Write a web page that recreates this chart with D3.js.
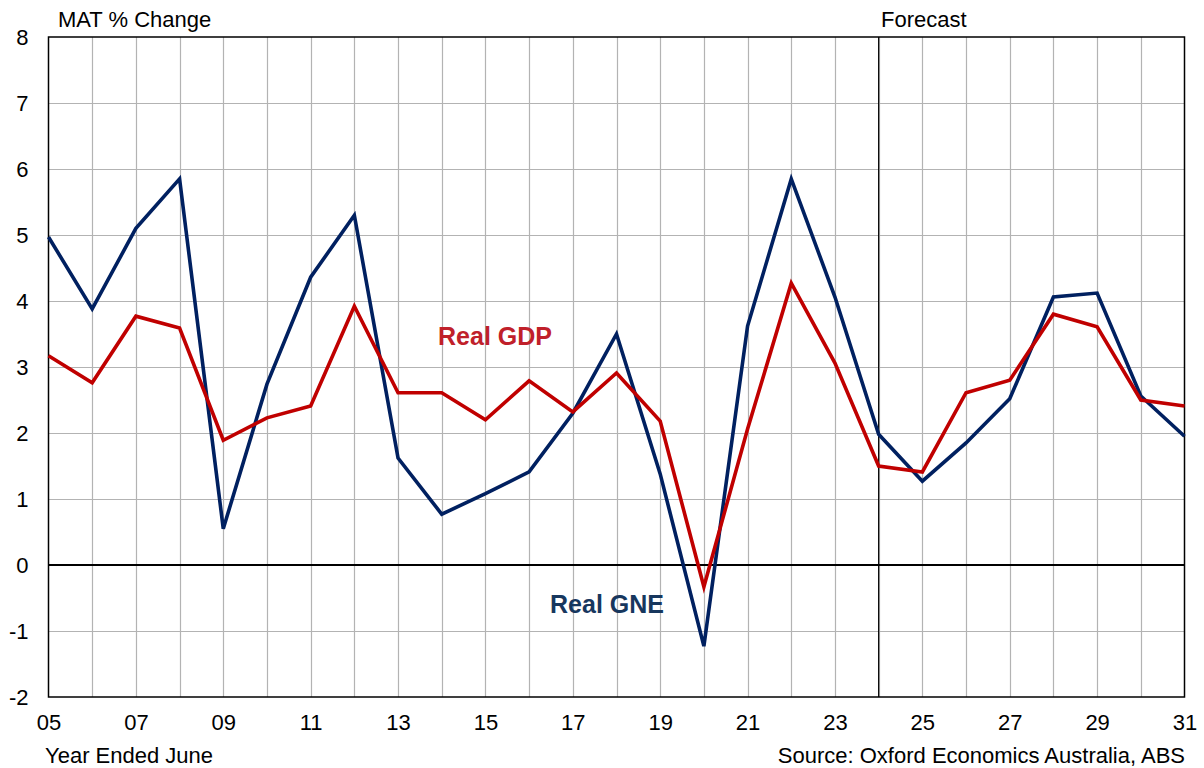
<!DOCTYPE html>
<html><head><meta charset="utf-8">
<script src="https://cdn.jsdelivr.net/npm/d3@7"></script>
<style>body{margin:0;background:#fff}svg{display:block;font-family:"Liberation Sans",Arial,sans-serif}</style>
</head><body><svg id="c" width="1204" height="768"></svg>
<script>
const years = [5,6,7,8,9,10,11,12,13,14,15,16,17,18,19,20,21,22,23,24,25,26,27,28,29,30,31];
const realGNE = [4.97,3.88,5.1,5.85,0.55,2.74,4.36,5.3,1.62,0.77,1.08,1.41,2.3,3.5,1.38,-1.23,3.62,5.85,4.06,1.98,1.27,1.85,2.52,4.06,4.12,2.56,1.95];
const realGDP = [3.17,2.76,3.77,3.59,1.89,2.23,2.41,3.92,2.61,2.61,2.2,2.79,2.32,2.91,2.18,-0.33,2.06,4.27,3.06,1.5,1.41,2.61,2.8,3.8,3.61,2.5,2.41];
const yTicks = [-2,-1,0,1,2,3,4,5,6,7,8];
const xTickYears = [5,7,9,11,13,15,17,19,21,23,25,27,29,31];
const forecastStart = 24;

const svg = d3.select("#c");
const L=48.5, R=1184.5, T=37, B=697;
const x = d3.scaleLinear().domain([5,31]).range([L,R]);
const y = d3.scaleLinear().domain([-2,8]).range([B,T]);

const g = svg.append("g");
g.selectAll(".vg").data(years.slice(1,-1)).join("line")
 .attr("x1",d=>Math.round(x(d))+0.5).attr("x2",d=>Math.round(x(d))+0.5).attr("y1",T).attr("y2",B)
 .attr("stroke","#b3b3b3").attr("stroke-width",1.2);
g.selectAll(".hg").data(yTicks.filter(d=>d!==-2&&d!==8&&d!==0)).join("line")
 .attr("x1",L).attr("x2",R).attr("y1",d=>Math.round(y(d))+0.5).attr("y2",d=>Math.round(y(d))+0.5)
 .attr("stroke","#b3b3b3").attr("stroke-width",1.2);
g.append("line").attr("x1",x(forecastStart)).attr("x2",x(forecastStart)).attr("y1",T).attr("y2",B).attr("stroke","#000").attr("stroke-width",1.2);
g.append("line").attr("x1",L).attr("x2",R).attr("y1",y(0)).attr("y2",y(0)).attr("stroke","#000").attr("stroke-width",2);
g.append("rect").attr("x",L).attr("y",T).attr("width",R-L).attr("height",B-T).attr("fill","none").attr("stroke","#000").attr("stroke-width",1.5);

const yAxis = d3.axisLeft(y).tickValues(yTicks).tickSize(0).tickPadding(20).tickFormat(d=>String(d));
const ya = svg.append("g").attr("transform",`translate(${L},0)`).call(yAxis);
ya.select(".domain").remove();
ya.selectAll("text").attr("font-size",22).attr("fill","#000").attr("font-family","Liberation Sans, Arial, sans-serif");

const xAxis = d3.axisBottom(x).tickValues(xTickYears).tickSize(0).tickPadding(17).tickFormat(d=>d3.format("02d")(d));
const xa = svg.append("g").attr("transform",`translate(0,${B})`).call(xAxis);
xa.select(".domain").remove();
xa.selectAll("text").attr("font-size",22).attr("fill","#000").attr("font-family","Liberation Sans, Arial, sans-serif");

const line = d3.line().x((d,i)=>x(years[i])).y(d=>y(d));
svg.append("path").datum(realGNE).attr("d",line).attr("fill","none").attr("stroke","#002060").attr("stroke-width",3.6).attr("stroke-linejoin","miter");
svg.append("path").datum(realGDP).attr("d",line).attr("fill","none").attr("stroke","#C00000").attr("stroke-width",3.6).attr("stroke-linejoin","miter");

const t = (s,xx,yy,opts={})=>svg.append("text").text(s).attr("x",xx).attr("y",yy).attr("font-size",opts.size||22)
  .attr("text-anchor",opts.anchor||"start").attr("font-weight",opts.weight||"normal").attr("fill",opts.fill||"#000");
t("MAT % Change",58,27);
t("Forecast",881,27);
t("Year Ended June",45,763);
t("Source: Oxford Economics Australia, ABS",1185,763,{anchor:"end"});
t("Real GDP",495,345,{anchor:"middle",weight:"bold",size:25,fill:"#C0202A"});
t("Real GNE",607,613,{anchor:"middle",weight:"bold",size:25,fill:"#17375E"});
</script></body></html>
